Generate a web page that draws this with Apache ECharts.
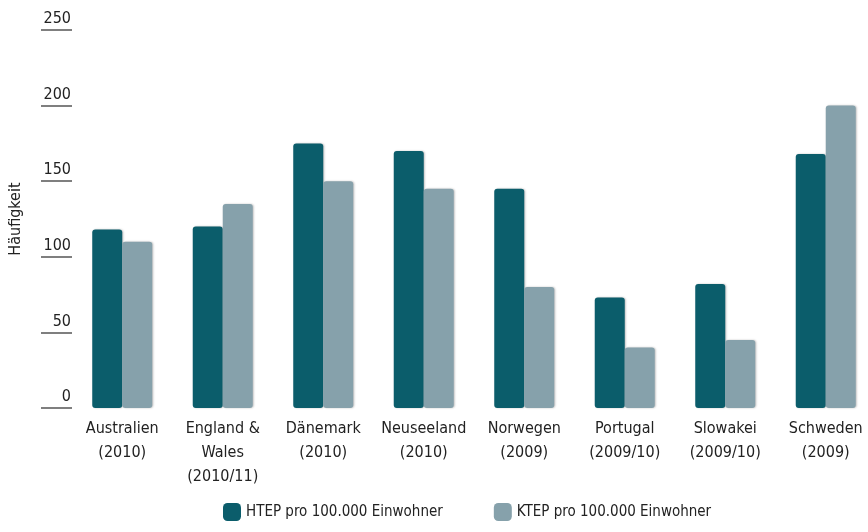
<!DOCTYPE html>
<html>
<head>
<meta charset="utf-8">
<script src="https://cdn.jsdelivr.net/npm/echarts@6/dist/echarts.min.js"></script>
<style>
  html, body { margin: 0; padding: 0; background: #fff; }
  #chart { width: 868px; height: 532px; }
</style>
</head>
<body>
<div id="chart"></div>
<script>
  // Kategorien (Land + Jahr)
  var laender = [
    'Australien\n(2010)',
    'England &\nWales\n(2010/11)',
    'Dänemark\n(2010)',
    'Neuseeland\n(2010)',
    'Norwegen\n(2009)',
    'Portugal\n(2009/10)',
    'Slowakei\n(2009/10)',
    'Schweden\n(2009)'
  ];
  var htep = [118, 120, 175, 170, 145, 73, 82, 168];
  var ktep = [110, 135, 150, 145, 80, 40, 45, 200];
  var yTicks = [0, 50, 100, 150, 200, 250];

  var fontFam = '"Liberation Sans Narrow", "DejaVu Sans Condensed", "Open Sans", sans-serif';
  var dunkel = '#0b5d6b';
  var hell = '#86a1ab';

  var chart = echarts.init(document.getElementById('chart'));

  var barStyle = function (farbe) {
    return {
      color: farbe,
      borderRadius: 3,
      shadowColor: 'rgba(0,0,0,0.25)',
      shadowBlur: 2,
      shadowOffsetX: 1,
      shadowOffsetY: 0
    };
  };

  chart.setOption({
    animation: false,
    grid: { left: 72, right: -8, top: 30, bottom: 124, outerBoundsMode: 'none' },
    legend: {
      left: 218,
      bottom: 6,
      itemWidth: 18,
      itemHeight: 18,
      itemGap: 51,
      textStyle: { fontFamily: fontFam, fontSize: 15, color: '#222' },
      data: [
        { name: 'HTEP pro 100.000 Einwohner', itemStyle: { color: dunkel, borderRadius: 3 } },
        { name: 'KTEP pro 100.000 Einwohner', itemStyle: { color: hell, borderRadius: 3 } }
      ]
    },
    xAxis: {
      type: 'category',
      data: laender,
      axisLine: { show: false },
      axisTick: { show: false },
      axisLabel: {
        interval: 0,
        margin: 9,
        fontFamily: fontFam,
        fontSize: 16,
        lineHeight: 24,
        color: '#222'
      }
    },
    yAxis: {
      type: 'value',
      min: yTicks[0],
      max: yTicks[yTicks.length - 1],
      interval: 50,
      name: 'Häufigkeit',
      nameLocation: 'middle',
      nameGap: 48,
      nameRotate: 90,
      nameTextStyle: { fontFamily: fontFam, fontSize: 16, color: '#222' },
      axisLine: { show: false },
      splitLine: { show: false },
      axisTick: { show: true, length: 31, lineStyle: { color: '#555', width: 1.5 } },
      axisLabel: {
        margin: 1,
        verticalAlign: 'bottom',
        fontFamily: fontFam,
        fontSize: 16,
        color: '#222',
        padding: [0, 0, 3, 0]
      }
    },
    series: [
      {
        name: 'HTEP pro 100.000 Einwohner',
        type: 'bar',
        data: htep,
        barWidth: 30,
        barGap: '0%',
        itemStyle: barStyle(dunkel)
      },
      {
        name: 'KTEP pro 100.000 Einwohner',
        type: 'bar',
        data: ktep,
        barWidth: 30,
        itemStyle: barStyle(hell)
      }
    ]
  });
</script>
</body>
</html>
